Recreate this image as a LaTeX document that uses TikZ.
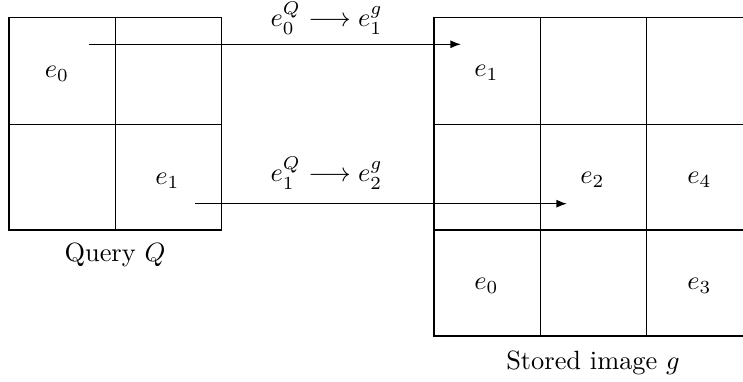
\documentclass[tikz,border=0pt]{standalone}
\usetikzlibrary{arrows.meta}
\begin{document}
\begin{tikzpicture}[x=0.3788pt,y=-0.3788pt,
  gridline/.style={draw=black,line width=0.45pt},
  lab/.style={inner sep=0pt,anchor=base},
  conn/.style={-{Latex[length=4pt,width=3pt]},line width=0.45pt}]
\useasboundingbox (0,0) rectangle (743,382);
\clip (0,0) rectangle (743,382);
% query grid (2x2)
\draw[gridline] (9,17.7) rectangle (221.7,230);
\draw[gridline] (115.3,17.7) -- (115.3,230);
\draw[gridline] (9,124.3) -- (221.7,124.3);
% stored image grid (3x3, cut at the right edge)
\draw[gridline] (753,17.7) -- (434,17.7) -- (434,336) -- (753,336);
\draw[gridline] (540.3,17.7) -- (540.3,336) (646.7,17.7) -- (646.7,336);
\draw[gridline] (434,124.3) -- (753,124.3) (434,230) -- (753,230);
% cell labels, query
\node[lab] (q0) at (57,78) {$e_0$};
\node[lab] (q1) at (167.5,185) {$e_1$};
% cell labels, stored image
\node[lab] (g1) at (486.5,77) {$e_1$};
\node[lab] (g2) at (592.5,183.5) {$e_2$};
\node[lab] (g4) at (699.5,183.5) {$e_4$};
\node[lab] (g0) at (486.5,290) {$e_0$};
\node[lab] (g3) at (699.5,290) {$e_3$};
% captions
\node[lab] (capq) at (115,262) {Query $Q$};
\node[lab] (capg) at (593,370) {Stored image $g$};
% connectors
\coordinate (a0s) at (89,44.3);
\coordinate (a0e) at (461,44.3);
\coordinate (a1s) at (195,203.7);
\coordinate (a1e) at (567,203.7);
\draw[conn] (a0s) -- (a0e);
\draw[conn] (a1s) -- (a1e);
\node[lab] (m0) at (326.7,27) {$e_0^Q \longrightarrow e_1^g$};
\node[lab] (m1) at (326.7,182) {$e_1^Q \longrightarrow e_2^g$};
\end{tikzpicture}
\end{document}
